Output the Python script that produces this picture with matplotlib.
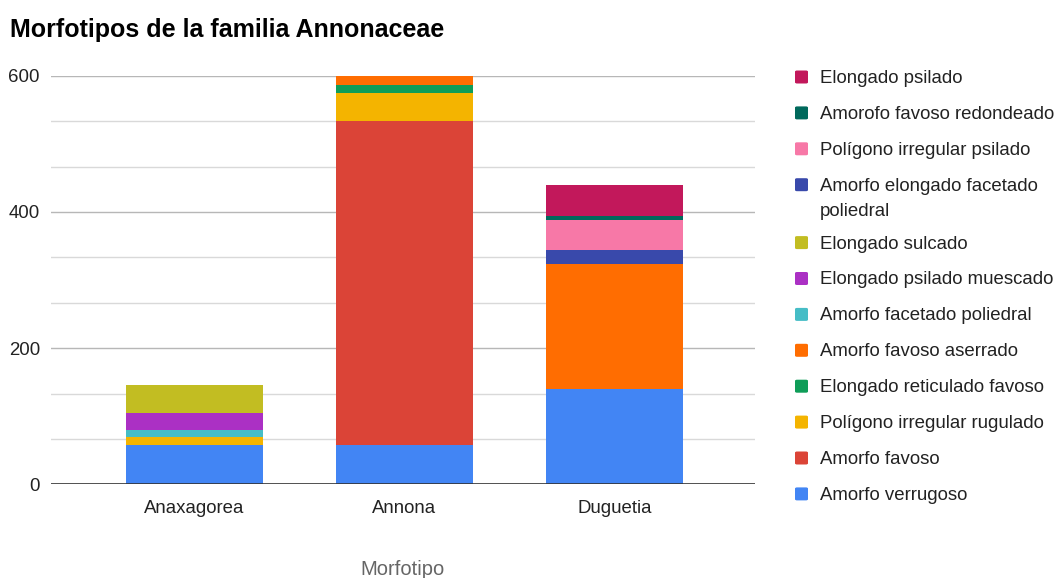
import textwrap
import matplotlib
matplotlib.use("Agg")
import matplotlib.pyplot as plt
from matplotlib.patches import FancyBboxPatch

plt.rcParams["font.family"] = ["Liberation Sans", "DejaVu Sans"]

# Genera (x categories)
categories = ["Anaxagorea", "Annona", "Duguetia"]

# Morphotype series, stacked bottom to top
series_names = [
    "Amorfo verrugoso",
    "Amorfo favoso",
    "Polígono irregular rugulado",
    "Elongado reticulado favoso",
    "Amorfo favoso aserrado",
    "Amorfo facetado poliedral",
    "Elongado psilado muescado",
    "Elongado sulcado",
    "Amorfo elongado facetado poliedral",
    "Polígono irregular psilado",
    "Amorofo favoso redondeado",
    "Elongado psilado",
]
amorfo_verrugoso = [57, 57, 140]
amorfo_favoso = [0, 476, 0]
poligono_irregular_rugulado = [12, 42, 0]
elongado_reticulado_favoso = [0, 12, 0]
amorfo_favoso_aserrado = [0, 13, 184]
amorfo_facetado_poliedral = [11, 0, 0]
elongado_psilado_muescado = [24, 0, 0]
elongado_sulcado = [42, 0, 0]
amorfo_elongado_facetado_poliedral = [0, 0, 20]
poligono_irregular_psilado = [0, 0, 44]
amorofo_favoso_redondeado = [0, 0, 6]
elongado_psilado = [0, 0, 46]

series_values = [
    amorfo_verrugoso,
    amorfo_favoso,
    poligono_irregular_rugulado,
    elongado_reticulado_favoso,
    amorfo_favoso_aserrado,
    amorfo_facetado_poliedral,
    elongado_psilado_muescado,
    elongado_sulcado,
    amorfo_elongado_facetado_poliedral,
    poligono_irregular_psilado,
    amorofo_favoso_redondeado,
    elongado_psilado,
]
colors = [
    "#4285F4", "#DB4437", "#F4B400", "#0F9D58", "#FF6D01", "#46BDC6",
    "#AB30C4", "#C2BD22", "#3949AB", "#F778A7", "#00695C", "#C2185B",
]

y_ticks = [0, 200, 400, 600]

W, H = 1057, 578
fig = plt.figure(figsize=(W / 100, H / 100), dpi=100)
ax = fig.add_axes([51 / W, (H - 484.3) / H, (755 - 51) / W, (484.3 - 75.7) / H])

x = list(range(len(categories)))
bottom = [0] * len(categories)
for name, vals, col in zip(series_names, series_values, colors):
    ax.bar(x, vals, bottom=bottom, width=0.65, color=col, linewidth=0, zorder=3)
    bottom = [b + v for b, v in zip(bottom, vals)]

ax.set_xlim(-0.683, 2.669)
ax.set_ylim(0, 600)

# Grid: labelled lines plus two lighter lines between each pair
for v in range(0, 601, 200):
    if v > 0:
        ax.axhline(v, color="#b7b7b7", linewidth=1, zorder=1)
for v in range(0, 600, 200):
    for k in (1, 2):
        ax.axhline(v + k * 200 / 3, color="#d9d9d9", linewidth=1, zorder=1)
ax.axhline(0, color="#333333", linewidth=1.2, zorder=4)

for s in ax.spines.values():
    s.set_visible(False)
ax.set_yticks(y_ticks)
ax.set_yticklabels([str(t) for t in y_ticks])
ax.set_xticks(x)
ax.set_xticklabels(categories)
ax.tick_params(axis="both", length=0, labelsize=13.4, labelcolor="#222222")
ax.tick_params(axis="y", pad=8)
ax.tick_params(axis="x", pad=11.5)

ax.set_xlabel("Morfotipo", fontsize=14.5, color="#666666", labelpad=31)

fig.text(10 / W, 1 - 30 / H, "Morfotipos de la familia Annonaceae",
         fontsize=18, fontweight="bold", color="#000000", va="center", ha="left")

# Legend, newest series on top
y = 77.0
for name, col in zip(series_names[::-1], colors[::-1]):
    lines = textwrap.wrap(name, 27)
    fig.patches.append(FancyBboxPatch(
        (795 / W, 1 - (y + 6.5) / H), 13 / W, 13 / H,
        boxstyle="round,pad=0,rounding_size=0.002",
        transform=fig.transFigure, facecolor=col, edgecolor="none"))
    for i, line in enumerate(lines):
        fig.text(820 / W, 1 - (y + 1.5 + i * 25) / H, line, fontsize=13.4,
                 color="#222222", va="center", ha="left")
    y += 35.9 + 22 * (len(lines) - 1)

fig.savefig("out.png", dpi=100)
